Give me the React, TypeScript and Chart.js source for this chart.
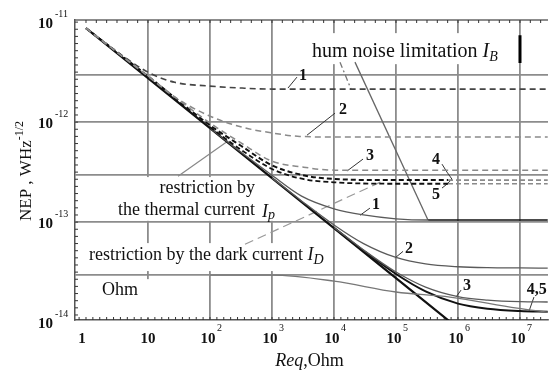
import React, { useEffect, useRef } from "react";
import { Chart, registerables } from "chart.js";

Chart.register(...registerables);

const SERIF = '"Liberation Serif", "Times New Roman", "DejaVu Serif", serif';

// ---- axis ranges / ticks ----
const X_MIN = 0.665;
const X_MAX = 2.83e7;
const Y_MIN = 1.05e-14;
const Y_MAX = 1.05e-11;
const xLabelExponents = [0, 1, 2, 3, 4, 5, 6, 7];
const xGridValues = [10, 100, 1e3, 1e4, 1e5, 1e6, 1e7];
const yLabelExponents = [-11, -12, -13, -14];
const yGridValues = [3e-14, 1e-13, 3e-13, 1e-12, 3e-12];

// ---- series ----
const diagR = [1, 10, 100, 1e3, 1e4, 1e5, 1e6];
const diagNEP = [8.7e-12, 2.75e-12, 8.7e-13, 2.75e-13, 8.7e-14, 2.75e-14, 8.7e-15];

const dash1R = [1, 2.26, 10, 27, 93, 330, 1000, 2.8e7];
const dash1NEP = [8.7e-12, 5.9e-12, 3.16e-12, 2.5e-12, 2.3e-12, 2.19e-12, 2.14e-12, 2.14e-12];

const dash2R = [1, 10, 27, 93, 330, 1000, 2800, 1e4, 2.8e7];
const dash2NEP = [8.7e-12, 2.88e-12, 1.78e-12, 1.17e-12, 8.9e-13, 7.8e-13, 7.2e-13, 7.1e-13, 7.1e-13];

const dash3R = [1, 10, 100, 316, 1000, 3160, 1e4, 2.8e7];
const dash3NEP = [8.7e-12, 2.88e-12, 9.8e-13, 6.2e-13, 4.07e-13, 3.55e-13, 3.31e-13, 3.3e-13];

const dash4R = [1, 10, 100, 316, 1000, 3160, 1e4, 1e5, 6.9e5, 2.8e7];
const dash4NEP = [8.7e-12, 2.88e-12, 9.3e-13, 5.8e-13, 3.7e-13, 2.95e-13, 2.7e-13, 2.63e-13, 2.63e-13, 2.63e-13];

const dash5R = [100, 316, 1000, 3160, 1e4, 1e5, 6.9e5, 2.8e7];
const dash5NEP = [8.9e-13, 5.3e-13, 3.4e-13, 2.7e-13, 2.5e-13, 2.42e-13, 2.42e-13, 2.42e-13];

const solid1R = [100, 300, 1000, 3000, 1e4, 3e4, 1e5, 3.3e5, 1e6, 1e7, 2.8e7];
const solid1NEP = [8.76e-13, 5.13e-13, 2.94e-13, 1.82e-13, 1.36e-13, 1.18e-13, 1.08e-13, 1.05e-13, 1.05e-13, 1.05e-13, 1.05e-13];

const solid2R = [1000, 3000, 1e4, 3e4, 1e5, 3e5, 1e6, 3e6, 1e7, 2.8e7];
const solid2NEP = [2.77e-13, 1.63e-13, 9.37e-14, 6.1e-14, 4.43e-14, 3.82e-14, 3.58e-14, 3.5e-14, 3.48e-14, 3.47e-14];

const solid3R = [1e4, 3e4, 1e5, 3e5, 1e6, 3e6, 1e7, 2.8e7];
const solid3NEP = [8.84e-14, 5.26e-14, 3.17e-14, 2.24e-14, 1.8e-14, 1.66e-14, 1.6e-14, 1.59e-14];

const solid45R = [1e4, 3e4, 1e5, 3e5, 1e6, 3e6, 1e7, 2.8e7];
const solid45NEP = [8.79e-14, 5.18e-14, 3.03e-14, 2.03e-14, 1.53e-14, 1.36e-14, 1.29e-14, 1.27e-14];

const darkR = [100, 1000, 1e4, 1e5, 7.4e5, 9e6, 2.8e7];
const darkNEP = [2.95e-14, 2.95e-14, 2.57e-14, 2.0e-14, 1.78e-14, 1.38e-14, 1.26e-14];

const humSolidR = [2.18e4, 3.28e5];
const humSolidNEP = [3.98e-12, 1.05e-13];
const humDashR = [1.25e4, 1.88e4];
const humDashNEP = [3.98e-12, 2.14e-12];
const humBarR = [1e7, 1e7];
const humBarNEP = [7.4e-12, 3.9e-12];

// ---- annotation leaders (data coordinates) ----
const leaders = [
  { r: [30.5, 195], n: [2.88e-13, 6.46e-13], kind: "thermal" },
  { r: [367, 6.6e4], n: [6.0e-14, 2.63e-13], kind: "dark" },
  { r: [2.53e3, 1.81e3], n: [2.82e-12, 2.19e-12], kind: "num" },
  { r: [1.04e4, 3.67e3], n: [1.23e-12, 7.4e-13], kind: "num" },
  { r: [2.94e4, 1.62e4], n: [4.27e-13, 3.24e-13], kind: "num" },
  { r: [5.52e5, 6.65e5, 8.0e5], n: [3.8e-13, 3.16e-13, 2.69e-13], kind: "num" },
  { r: [5.52e5, 6.65e5, 8.0e5], n: [2.19e-13, 2.4e-13, 2.69e-13], kind: "num" },
  { r: [3.8e4, 2.63e4], n: [1.38e-13, 1.17e-13], kind: "num" },
  { r: [1.3e5, 9.6e4], n: [5.1e-14, 4.37e-14], kind: "num" },
  { r: [1.12e6, 9.3e5], n: [2.09e-14, 1.78e-14], kind: "num" },
  { r: [1.68e7, 1.4e7], n: [1.78e-14, 1.29e-14], kind: "num" },
];

const curveLabels = [
  { t: "1", r: 3.16e3, n: 2.63e-12 },
  { t: "2", r: 1.4e4, n: 1.2e-12 },
  { t: "3", r: 3.8e4, n: 4.17e-13 },
  { t: "4", r: 4.42e5, n: 3.8e-13 },
  { t: "5", r: 4.42e5, n: 1.7e-13 },
  { t: "1", r: 4.76e4, n: 1.35e-13 },
  { t: "2", r: 1.62e5, n: 4.9e-14 },
  { t: "3", r: 1.4e6, n: 2.09e-14 },
  { t: "4,5", r: 1.87e7, n: 1.9e-14 },
];

// white label backgrounds (data coordinates)
const whiteBoxes = [
  { r0: 3.4e3, r1: 8.95e6, n0: 7.76e-12, n1: 3.8e-12 },
  { r0: 1.16, r1: 1.4e3, n0: 2.82e-13, n1: 1.03e-13 },
  { r0: 0.9, r1: 9.6e3, n0: 6.17e-14, n1: 3.24e-14 },
  { r0: 0.7, r1: 69, n0: 2.69e-14, n1: 1.1e-14 },
];

const pts = (xs: number[], ys: number[]) => xs.map((x, i) => ({ x, y: ys[i] }));

type Part = { t: string; font: string; dy?: number };
function drawRich(ctx: CanvasRenderingContext2D, parts: Part[], x: number, y: number, align: "left" | "center" | "right") {
  let total = 0;
  const widths = parts.map((p) => {
    ctx.font = p.font;
    const w = ctx.measureText(p.t).width;
    total += w;
    return w;
  });
  let cx = align === "left" ? x : align === "center" ? x - total / 2 : x - total;
  ctx.textAlign = "left";
  ctx.textBaseline = "alphabetic";
  parts.forEach((p, i) => {
    ctx.font = p.font;
    ctx.fillText(p.t, cx, y + (p.dy || 0));
    cx += widths[i];
  });
}

const decorPlugin = {
  id: "decor",
  beforeDatasetsDraw(chart: any) {
    const { ctx, chartArea: a, scales } = chart;
    const xs = scales.x;
    const ys = scales.y;
    ctx.save();
    ctx.fillStyle = "#ffffff";
    for (const b of whiteBoxes) {
      const x1 = xs.getPixelForValue(b.r0);
      const x2 = xs.getPixelForValue(b.r1);
      const y1 = ys.getPixelForValue(b.n0);
      const y2 = ys.getPixelForValue(b.n1);
      ctx.fillRect(Math.min(x1, x2), Math.min(y1, y2), Math.abs(x2 - x1), Math.abs(y2 - y1));
    }
    // top frame line
    ctx.strokeStyle = "#666";
    ctx.lineWidth = 1.5;
    ctx.beginPath();
    ctx.moveTo(a.left, a.top);
    ctx.lineTo(a.right, a.top);
    ctx.stroke();
    // minor tick marks
    ctx.strokeStyle = "#333";
    ctx.lineWidth = 1;
    ctx.beginPath();
    for (let d = -1; d <= 8; d++) {
      for (let k = 0; k < 9; k++) {
        const px = xs.getPixelForValue(Math.pow(10, d + k / 9));
        if (px > a.left + 2 && px < a.right - 1) {
          ctx.moveTo(px, a.bottom);
          ctx.lineTo(px, a.bottom - 3);
        }
      }
      for (let k = 0; k < 6; k++) {
        const px = xs.getPixelForValue(Math.pow(10, d + k / 6));
        if (px > a.left + 2 && px < a.right - 1) {
          ctx.moveTo(px, a.top);
          ctx.lineTo(px, a.top + 3);
        }
      }
    }
    for (let d = -15; d <= -10; d++) {
      for (let k = 0; k < 14; k++) {
        const py = ys.getPixelForValue(Math.pow(10, d + k / 14));
        if (py > a.top + 2 && py < a.bottom - 2) {
          ctx.moveTo(a.left, py);
          ctx.lineTo(a.left + 3, py);
        }
      }
    }
    ctx.stroke();
    ctx.restore();
  },
  afterDraw(chart: any) {
    const { ctx, chartArea: a, scales } = chart;
    const xs = scales.x;
    const ys = scales.y;
    ctx.save();
    ctx.fillStyle = "#111";
    const base = `bold 15px ${SERIF}`;
    const sup = `10px ${SERIF}`;
    // x tick labels
    for (const e of xLabelExponents) {
      const px = xs.getPixelForValue(Math.pow(10, e));
      if (e === 0) drawRich(ctx, [{ t: "1", font: base }], px - 4, a.bottom + 23, "center");
      else if (e === 1) drawRich(ctx, [{ t: "10", font: base }], px, a.bottom + 23, "center");
      else {
        drawRich(ctx, [{ t: "10", font: base }], px - 2, a.bottom + 23, "center");
        drawRich(ctx, [{ t: String(e), font: sup }], px + 7, a.bottom + 11, "left");
      }
    }
    // y tick labels
    for (const e of yLabelExponents) {
      const py = ys.getPixelForValue(Math.pow(10, e));
      drawRich(ctx, [{ t: "10", font: base }], a.left - 22, py + 6, "right");
      drawRich(ctx, [{ t: String(e), font: sup }], a.left - 20, py - 5, "left");
    }
    // x title
    drawRich(
      ctx,
      [
        { t: "Req", font: `italic 18px ${SERIF}` },
        { t: ",Ohm", font: `18px ${SERIF}` },
      ],
      (a.left + a.right) / 2 - 2,
      366,
      "center"
    );
    // y title
    ctx.save();
    ctx.translate(31, 221);
    ctx.rotate(-Math.PI / 2);
    drawRich(
      ctx,
      [
        { t: "NEP , WHz", font: `17px ${SERIF}` },
        { t: "-1/2", font: `12px ${SERIF}`, dy: -8 },
      ],
      0,
      0,
      "left"
    );
    ctx.restore();

    // annotations
    const P = (r: number, n: number) => [xs.getPixelForValue(r), ys.getPixelForValue(n)];
    let [hx, hy] = P(4.42e3, 4.47e-12);
    drawRich(
      ctx,
      [
        { t: "hum noise limitation ", font: `20px ${SERIF}` },
        { t: "I", font: `italic 20px ${SERIF}` },
        { t: "B", font: `italic 14px ${SERIF}`, dy: 4 },
      ],
      hx,
      hy,
      "left"
    );
    let [tx, ty] = P(532, 1.95e-13);
    drawRich(ctx, [{ t: "restriction by", font: `18px ${SERIF}` }], tx, ty, "right");
    [tx, ty] = P(532, 1.17e-13);
    drawRich(ctx, [{ t: "the thermal current", font: `18px ${SERIF}` }], tx, ty, "right");
    [tx, ty] = P(690, 1.12e-13);
    drawRich(
      ctx,
      [
        { t: "I", font: `italic 18px ${SERIF}` },
        { t: "p", font: `italic 14px ${SERIF}`, dy: 2 },
      ],
      tx,
      ty,
      "left"
    );
    [tx, ty] = P(1.12, 4.17e-14);
    drawRich(
      ctx,
      [
        { t: "restriction by the dark current ", font: `18px ${SERIF}` },
        { t: "I", font: `italic 18px ${SERIF}` },
        { t: "D", font: `italic 14px ${SERIF}`, dy: 4 },
      ],
      tx,
      ty,
      "left"
    );
    [tx, ty] = P(1.81, 1.86e-14);
    drawRich(ctx, [{ t: "Ohm", font: `18px ${SERIF}` }], tx, ty, "left");

    for (const l of curveLabels) {
      const [lx, ly] = P(l.r, l.n);
      drawRich(ctx, [{ t: l.t, font: `bold 16px ${SERIF}` }], lx, ly, "center");
    }
    ctx.restore();
  },
};

const GREY = "#5a5a5a";
const LGREY = "#8a8a8a";

function buildDatasets() {
  const common = { showLine: true, pointRadius: 0, pointHoverRadius: 0, fill: false, tension: 0 };
  const smooth = { ...common, cubicInterpolationMode: "monotone" as const };
  const ds: any[] = [
    { ...smooth, data: pts(dash2R, dash2NEP), borderColor: LGREY, borderWidth: 1.5, borderDash: [6, 4] },
    { ...smooth, data: pts(dash3R, dash3NEP), borderColor: LGREY, borderWidth: 1.5, borderDash: [6, 4] },
    { ...smooth, data: pts(dash1R, dash1NEP), borderColor: "#444", borderWidth: 1.6, borderDash: [6, 4] },
    {
      ...smooth,
      data: pts(dash4R, dash4NEP),
      borderColor: "#111",
      borderWidth: 2,
      borderDash: [5, 3],
      segment: {
        borderColor: (c: any) => (c.p0.parsed.x >= 6.9e5 ? LGREY : "#111"),
        borderWidth: (c: any) => (c.p0.parsed.x >= 6.9e5 ? 1.6 : 2),
      },
    },
    {
      ...smooth,
      data: pts(dash5R, dash5NEP),
      borderColor: "#111",
      borderWidth: 1.8,
      borderDash: [5, 3],
      segment: {
        borderColor: (c: any) => (c.p0.parsed.x >= 6.9e5 ? LGREY : "#111"),
        borderWidth: (c: any) => (c.p0.parsed.x >= 6.9e5 ? 1.6 : 1.8),
      },
    },
    { ...smooth, data: pts(darkR, darkNEP), borderColor: "#777", borderWidth: 1.3 },
    {
      ...smooth,
      data: pts(solid1R, solid1NEP),
      borderColor: GREY,
      borderWidth: 1.3,
      segment: {
        borderColor: (c: any) => (c.p0.parsed.x >= 3.3e5 ? "#111" : GREY),
        borderWidth: (c: any) => (c.p0.parsed.x >= 3.3e5 ? 1.6 : 1.3),
      },
    },
    { ...smooth, data: pts(solid2R, solid2NEP), borderColor: GREY, borderWidth: 1.3 },
    { ...smooth, data: pts(solid3R, solid3NEP), borderColor: GREY, borderWidth: 1.3 },
    { ...smooth, data: pts(solid45R, solid45NEP), borderColor: "#111", borderWidth: 2 },
    { ...common, data: pts(humSolidR, humSolidNEP), borderColor: "#666", borderWidth: 1.3 },
    { ...common, data: pts(humDashR, humDashNEP), borderColor: "#777", borderWidth: 1.3, borderDash: [6, 3, 2, 3] },
    { ...common, data: pts(humBarR, humBarNEP), borderColor: "#000", borderWidth: 3 },
    { ...common, data: pts(diagR, diagNEP), borderColor: "#111", borderWidth: 2.2 },
  ];
  for (const l of leaders) {
    ds.push({
      ...common,
      data: pts(l.r, l.n),
      borderColor: l.kind === "num" ? "#333" : l.kind === "dark" ? "#999" : "#888",
      borderWidth: l.kind === "num" ? 1 : 1.2,
      borderDash: l.kind === "dark" ? [9, 5] : [],
    });
  }
  return ds;
}

export default function App() {
  const ref = useRef<HTMLCanvasElement>(null);
  useEffect(() => {
    const chart = new Chart(ref.current as HTMLCanvasElement, {
      type: "scatter",
      data: { datasets: buildDatasets() },
      options: {
        animation: false,
        responsive: false,
        devicePixelRatio: 1,
        events: [],
        layout: { padding: { left: 75, right: 3, top: 20, bottom: 52 } },
        plugins: { legend: { display: false }, tooltip: { enabled: false } },
        scales: {
          x: {
            type: "logarithmic",
            min: X_MIN,
            max: X_MAX,
            afterBuildTicks: (s: any) => {
              s.ticks = xGridValues.map((v) => ({ value: v }));
            },
            ticks: { display: false },
            grid: { color: "#8c8c8c", lineWidth: 1.8, drawTicks: false },
            border: { display: true, color: "#555", width: 1.5 },
          },
          y: {
            type: "logarithmic",
            min: Y_MIN,
            max: Y_MAX,
            afterBuildTicks: (s: any) => {
              s.ticks = yGridValues.map((v) => ({ value: v }));
            },
            ticks: { display: false },
            grid: { color: "#8c8c8c", lineWidth: 1.8, drawTicks: false },
            border: { display: true, color: "#555", width: 1.5 },
          },
        },
      } as any,
      plugins: [decorPlugin],
    });
    return () => chart.destroy();
  }, []);
  return (
    <div style={{ position: "fixed", left: 0, top: 0, width: 551, height: 372, background: "#fff" }}>
      <canvas ref={ref} width={551} height={372} style={{ display: "block", width: 551, height: 372 }} />
    </div>
  );
}
